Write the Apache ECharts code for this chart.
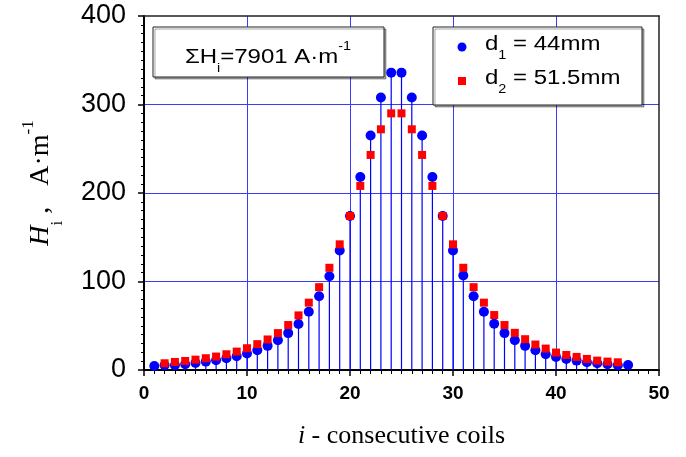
<!DOCTYPE html>
<html>
<head>
<meta charset="utf-8">
<script src="https://cdn.jsdelivr.net/npm/echarts@6/dist/echarts.min.js"></script>
<style>html,body{margin:0;padding:0;background:#fff}#c{width:686px;height:457px}</style>
</head>
<body>
<div id="c"></div>
<script>
// coil index and field strength Hi (A·m^-1)
const coilsD1 = [1,2,3,4,5,6,7,8,9,10,11,12,13,14,15,16,17,18,19,20,21,22,23,24,25,26,27,28,29,30,31,32,33,34,35,36,37,38,39,40,41,42,43,44,45,46,47];
const hD1 = [4.5,5.3,5.3,6.4,8.0,9.5,11,13.3,15.5,18.6,22.3,27.3,33.7,41.7,51.9,65.9,83.3,106,
             135,174,218,265,308,336,336,308,265,218,174,135,
             106.8,83.3,65.9,52.3,41.7,33.7,27.3,22.3,17.8,14.8,12.5,10.6,8.7,7.6,6.4,5.3,5.7];
const coilsD2 = [2,3,4,5,6,7,8,9,10,11,12,13,14,15,16,17,18,19,20,21,22,23,24,25,26,27,28,29,30,31,32,33,34,35,36,37,38,39,40,41,42,43,44,45,46];
const hD2 = [7.6,9.1,10.2,11.7,13.3,15.2,17.8,20.8,24.6,29.2,34.5,41.7,50.8,61.7,76.1,93.6,115.5,
             142,174,208,243,272,290,290,272,243,208,174,142,
             115.5,93.6,76.1,62.1,50.8,42,34.8,28.8,24.2,19.7,17,14.8,12.5,10.6,9.5,8.7];
const xTicks = {min: 0, max: 50, step: 10};
const yTicks = {min: 0, max: 400, step: 100};
const legendNames = ['d1 = 44mm', 'd2 = 51.5mm'];
const sumText = '7901';

const serif = 'Liberation Serif';
const sans = 'Liberation Sans';
const blue = '#0000ff';
const red = '#ff0000';
const gridBlue = '#3b3bff';

const chart = echarts.init(document.getElementById('c'), null, {renderer: 'canvas'});

function richSet(F, fam, P) {
  return {
    n:  {fontSize: F, fontFamily: fam, color: '#000', lineHeight: F + 2, verticalAlign: 'top', padding: [P,0,0,0]},
    it: {fontSize: F, fontFamily: fam, fontStyle: 'italic', color: '#000', lineHeight: F + 2, verticalAlign: 'top', padding: [P,0,0,0]},
    sub:{fontSize: Math.round(F*0.62), fontFamily: fam, color: '#000', lineHeight: Math.round(F*0.62), verticalAlign: 'top', padding: [P + Math.round(F*0.78),0,0,0]},
    sup:{fontSize: Math.round(F*0.62), fontFamily: fam, color: '#000', lineHeight: Math.round(F*0.62), verticalAlign: 'top', padding: [0,0,0,0]}
  };
}

const option = {
  animation: false,
  backgroundColor: '#fff',
  grid: {left: 144, right: 27, top: 16, bottom: 87, containLabel: false},
  xAxis: [{
    type: 'value', min: xTicks.min, max: xTicks.max, interval: xTicks.step,
    axisLine: {show: true, onZero: false, lineStyle: {color: '#000', width: 2}},
    axisTick: {show: true, length: 6, lineStyle: {color: '#000', width: 1.5}},
    minorTick: {show: true, splitNumber: 10, length: 4, lineStyle: {color: '#000', width: 1}},
    axisLabel: {fontSize: 19, fontWeight: 'bold', fontFamily: sans, color: '#000', margin: 14},
    splitLine: {show: true, showMinLine: false, showMaxLine: false, lineStyle: {color: gridBlue, width: 1}},
    name: '{it|i}{n| - consecutive coils}',
    nameLocation: 'middle', nameGap: 53,
    nameTextStyle: {rich: {
      it: {fontSize: 26, fontFamily: serif, fontStyle: 'italic', color: '#000'},
      n: {fontSize: 26, fontFamily: serif, color: '#000'}
    }}
  }, {
    type: 'value', position: 'top', min: xTicks.min, max: xTicks.max, interval: xTicks.step, z: 5,
    axisLine: {show: true, onZero: false, lineStyle: {color: '#222', width: 1.5}},
    axisTick: {show: false}, axisLabel: {show: false}, splitLine: {show: false}
  }],
  yAxis: [{
    type: 'value', min: yTicks.min, max: yTicks.max, interval: yTicks.step,
    axisLine: {show: true, onZero: false, lineStyle: {color: '#000', width: 2}},
    axisTick: {show: true, length: 6, lineStyle: {color: '#000', width: 1.5}},
    minorTick: {show: true, splitNumber: 10, length: 3, lineStyle: {color: '#000', width: 1}},
    axisLabel: {fontSize: 27, fontFamily: sans, color: '#000', margin: 18},
    splitLine: {show: true, showMinLine: false, showMaxLine: false, lineStyle: {color: gridBlue, width: 1}},
    name: '{it|H}{sub|i}{n| ,   A·m}{sup|-1}',
    nameLocation: 'middle', nameGap: 94, nameRotate: 90,
    nameTextStyle: {rich: richSet(28, serif, 7), padding: [0, 0, 0, 20]}
  }, {
    type: 'value', position: 'right', min: yTicks.min, max: yTicks.max, interval: yTicks.step, z: 5,
    axisLine: {show: true, onZero: false, lineStyle: {color: '#222', width: 1.5}},
    axisTick: {show: false}, axisLabel: {show: false}, splitLine: {show: false}
  }],
  series: [{
    name: 'stems', type: 'bar', silent: true, barWidth: 1.2,
    itemStyle: {color: blue},
    data: coilsD1.map((c, k) => [c, hD1[k]]), z: 2
  }, {
    name: legendNames[0], type: 'scatter', symbol: 'circle', symbolSize: 10,
    itemStyle: {color: blue, opacity: 1},
    data: coilsD1.map((c, k) => [c, hD1[k]]), z: 3
  }, {
    name: legendNames[1], type: 'scatter', symbol: 'rect', symbolSize: 8,
    itemStyle: {color: red, opacity: 1},
    data: coilsD2.map((c, k) => [c, hD2[k]]), z: 4
  }],
  graphic: [
    {type: 'rect', z: 100, shape: {x: 153, y: 27, width: 231, height: 50},
     style: {fill: '#fff', stroke: '#222', lineWidth: 1, shadowColor: 'rgba(0,0,0,0.35)', shadowOffsetX: 2, shadowOffsetY: 2, shadowBlur: 0}},
    {type: 'text', z: 101, x: 268, y: 41, scaleX: 1.2,
     style: {text: '{n|ΣH}{sub|i}{n|=' + sumText + ' A·m}{sup|-1}', align: 'center', verticalAlign: 'top', rich: richSet(20, sans, 6)}},
    {type: 'rect', z: 100, shape: {x: 433, y: 27, width: 209, height: 78},
     style: {fill: '#fff', stroke: '#222', lineWidth: 1, shadowColor: 'rgba(0,0,0,0.35)', shadowOffsetX: 2, shadowOffsetY: 2, shadowBlur: 0}},
    {type: 'circle', z: 101, shape: {cx: 462, cy: 47, r: 4.5}, style: {fill: blue}},
    {type: 'rect', z: 101, shape: {x: 458, y: 77, width: 8, height: 8}, style: {fill: red}},
    {type: 'text', z: 101, x: 485, y: 34, scaleX: 1.2,
     style: {text: '{n|d}{sub|1}{n| = 44mm}', align: 'left', verticalAlign: 'top', rich: richSet(20, sans, 0)}},
    {type: 'text', z: 101, x: 485, y: 68, scaleX: 1.2,
     style: {text: '{n|d}{sub|2}{n| = 51.5mm}', align: 'left', verticalAlign: 'top', rich: richSet(20, sans, 0)}}
  ]
};
chart.setOption(option);
</script>
</body>
</html>
